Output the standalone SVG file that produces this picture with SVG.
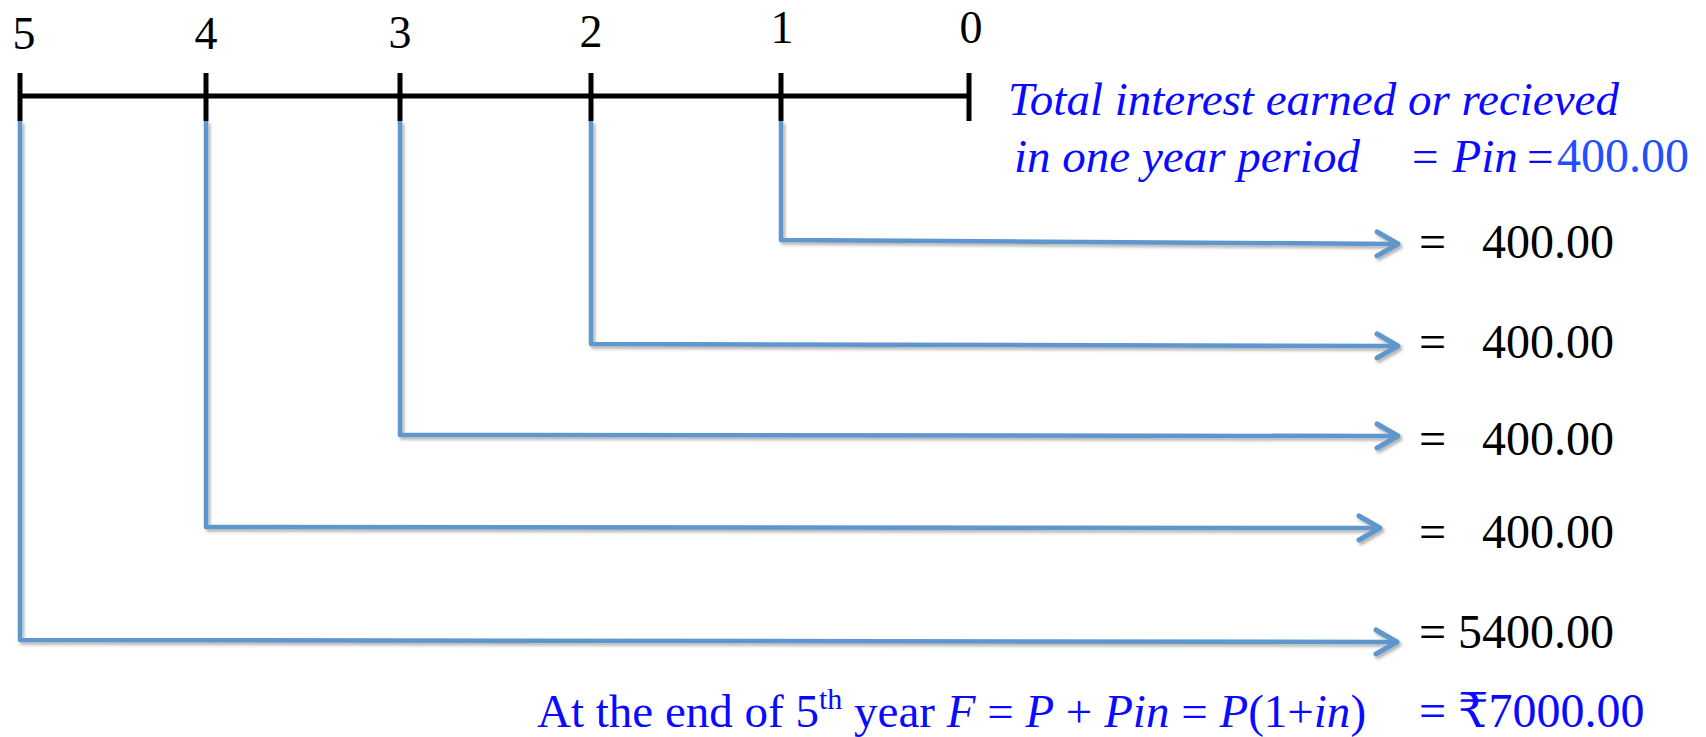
<svg xmlns="http://www.w3.org/2000/svg" width="1706" height="737" viewBox="0 0 1706 737">
  <defs>
    <style>
      .tl { stroke: #000; stroke-width: 5; fill: none; }
      .tick { stroke: #000; stroke-width: 5; }
      .num { font-family: "Liberation Serif", "DejaVu Serif", serif; font-size: 46px; fill: #000; text-anchor: middle; }
      .val { font-family: "Liberation Serif", "DejaVu Serif", "Noto Sans", serif; font-size: 48px; fill: #000; }
      .blue { font-family: "Liberation Serif", "DejaVu Serif", "Noto Sans", serif; font-size: 47px; fill: #0a0aff; }
      .it { font-style: italic; }
      .conn { stroke: #5f96cc; stroke-width: 4.5; fill: none; stroke-linejoin: round; }
    </style>
    <filter id="sh" x="-5%" y="-5%" width="110%" height="130%">
      <feDropShadow dx="2" dy="2.5" stdDeviation="1.5" flood-color="#000" flood-opacity="0.3"/>
    </filter>
    <marker id="arr" markerUnits="userSpaceOnUse" viewBox="0 0 30 30" markerWidth="30" markerHeight="30" refX="26" refY="15" orient="auto">
      <path d="M5,3 L26,15 L5,27" fill="none" stroke="#5f96cc" stroke-width="5" stroke-linecap="round" stroke-linejoin="round"/>
    </marker>
  </defs>

  <g id="timeline">
    <line class="tl" x1="20" y1="96" x2="969" y2="96"/>
    <line class="tick" x1="20" y1="73" x2="20" y2="121"/>
    <line class="tick" x1="206" y1="73" x2="206" y2="121"/>
    <line class="tick" x1="400" y1="73" x2="400" y2="121"/>
    <line class="tick" x1="591" y1="73" x2="591" y2="121"/>
    <line class="tick" x1="781" y1="73" x2="781" y2="121"/>
    <line class="tick" x1="969" y1="73" x2="969" y2="121"/>
    <text class="num" x="24" y="49">5</text>
    <text class="num" x="206" y="49">4</text>
    <text class="num" x="400" y="48">3</text>
    <text class="num" x="591" y="47">2</text>
    <text class="num" x="782" y="43">1</text>
    <text class="num" x="971" y="43">0</text>
  </g>

  <g id="connectors" filter="url(#sh)">
    <path class="conn" d="M781,121 V240 L1398,244" marker-end="url(#arr)"/>
    <path class="conn" d="M591,121 V344 L1398,346" marker-end="url(#arr)"/>
    <path class="conn" d="M400,121 V435 L1398,436" marker-end="url(#arr)"/>
    <path class="conn" d="M206,121 V527 L1380,528" marker-end="url(#arr)"/>
    <path class="conn" d="M20,121 V640 L1397,642" marker-end="url(#arr)"/>
  </g>

  <g id="note">
    <text class="blue it" x="1008" y="115">Total interest earned or recieved</text>
    <text class="blue" x="1014" y="172"><tspan class="it">in one year period</tspan><tspan class="it" x="1409">= Pin</tspan><tspan x="1527">=</tspan><tspan x="1557" font-size="48" fill="#1f4fff">400.00</tspan></text>
  </g>

  <g id="val1"><text class="val" x="1419" y="258">=<tspan x="1482">400.00</tspan></text></g>
  <g id="val2"><text class="val" x="1419" y="358">=<tspan x="1482">400.00</tspan></text></g>
  <g id="val3"><text class="val" x="1419" y="455">=<tspan x="1482">400.00</tspan></text></g>
  <g id="val4"><text class="val" x="1419" y="548">=<tspan x="1482">400.00</tspan></text></g>
  <g id="val5"><text class="val" x="1419" y="648">= 5400.00</text></g>

  <g id="result">
    <text class="blue" x="537" y="727" font-size="49">At the end of 5<tspan font-size="30" dy="-18">th</tspan><tspan dy="18"> year </tspan><tspan class="it">F</tspan> = <tspan class="it">P</tspan> + <tspan class="it">Pin</tspan> = <tspan class="it">P</tspan>(1+<tspan class="it">in</tspan>)<tspan x="1419" font-size="48">= ₹7000.00</tspan></text>
  </g>
</svg>
